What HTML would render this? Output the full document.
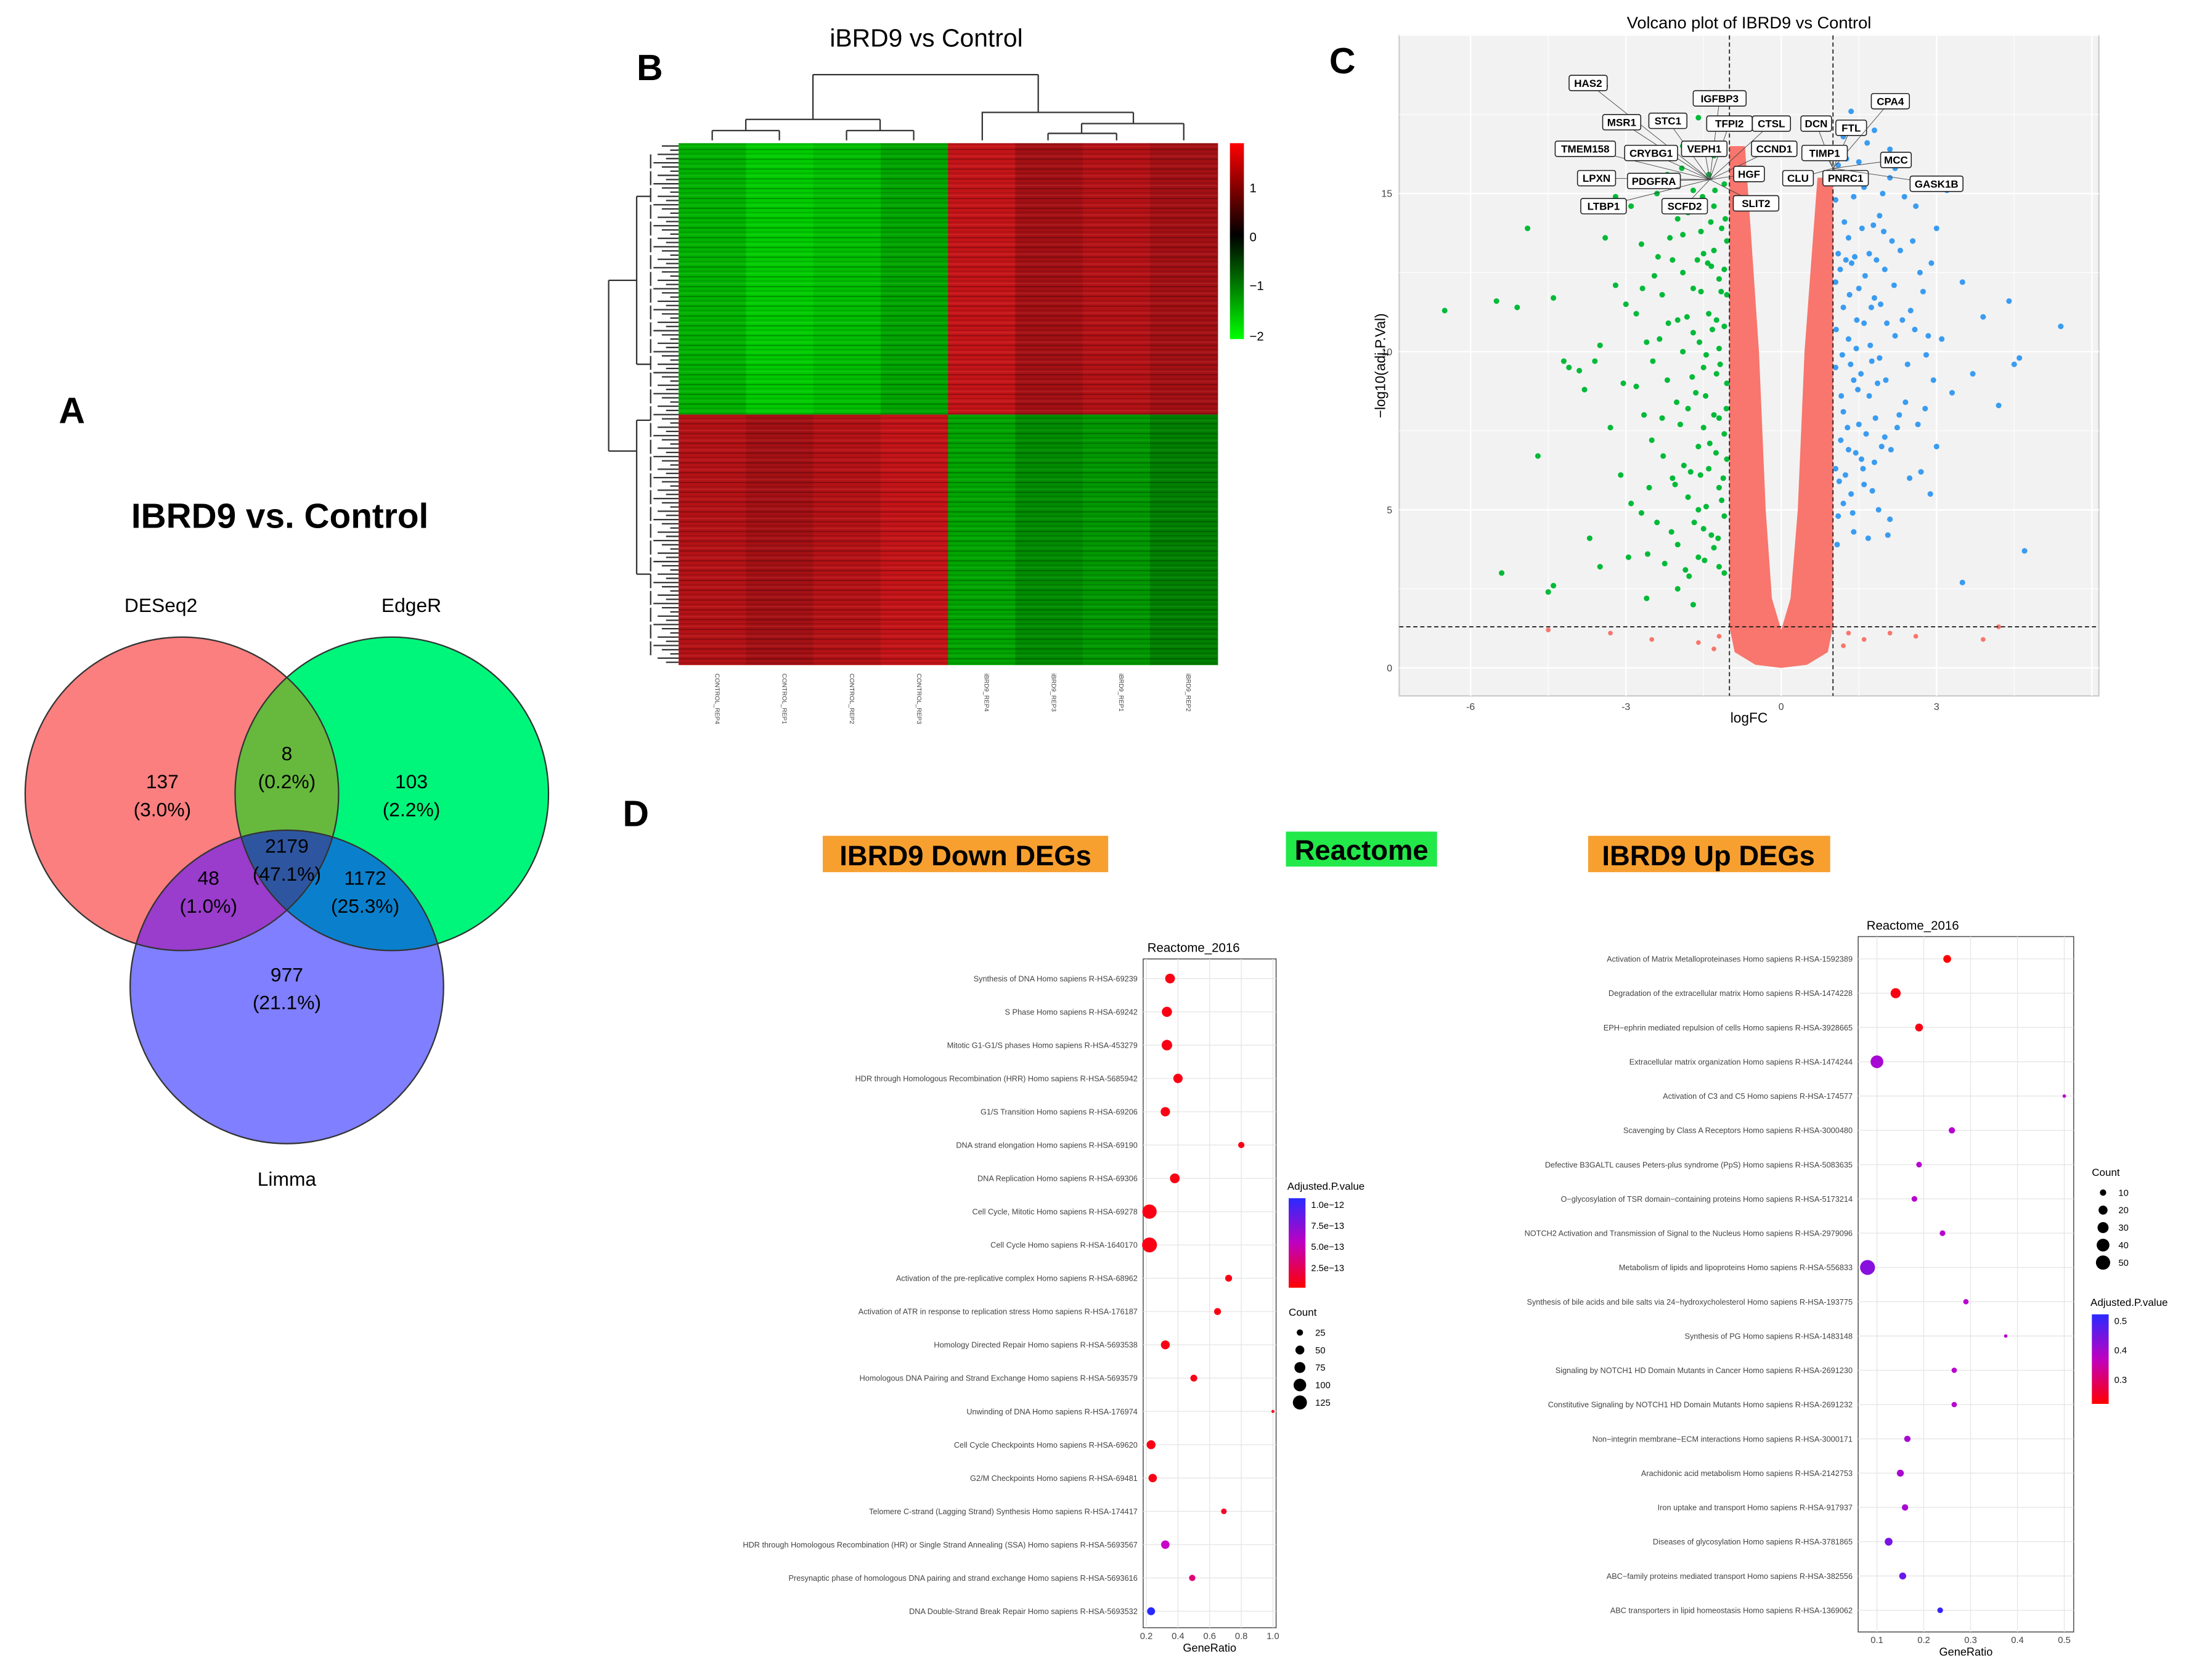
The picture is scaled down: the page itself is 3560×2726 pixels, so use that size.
<!DOCTYPE html>
<html><head><meta charset="utf-8"><style>
html,body{margin:0;padding:0;background:#fff;}
svg{display:block;font-family:"Liberation Sans",sans-serif;}
</style></head><body>
<svg id="fig" width="3560" height="2726" viewBox="0 0 1568 1200" xmlns="http://www.w3.org/2000/svg">
<rect width="1568" height="1200" fill="#fff"/>

<!-- PANEL A -->
<g>
<defs>
<clipPath id="cR"><circle cx="130" cy="567" r="112"/></clipPath>
<clipPath id="cG"><circle cx="280" cy="567" r="112"/></clipPath>
<clipPath id="cB"><circle cx="205" cy="705" r="112"/></clipPath>
</defs>
<text x="42" y="302" font-size="26" font-weight="bold">A</text>
<text x="200" y="377" font-size="25" font-weight="bold" text-anchor="middle">IBRD9 vs. Control</text>
<text x="115" y="437" font-size="14" text-anchor="middle">DESeq2</text>
<text x="294" y="437" font-size="14" text-anchor="middle">EdgeR</text>
<text x="205" y="847" font-size="14" text-anchor="middle">Limma</text>
<circle cx="130" cy="567" r="112" fill="#fb7f7f"/>
<circle cx="280" cy="567" r="112" fill="#00f57b"/>
<circle cx="205" cy="705" r="112" fill="#7f7fff"/>
<g clip-path="url(#cR)"><circle cx="280" cy="567" r="112" fill="#66b93d"/></g>
<g clip-path="url(#cR)"><circle cx="205" cy="705" r="112" fill="#9a3ccc"/></g>
<g clip-path="url(#cG)"><circle cx="205" cy="705" r="112" fill="#0a80cc"/></g>
<g clip-path="url(#cR)"><g clip-path="url(#cG)"><circle cx="205" cy="705" r="112" fill="#2e56a0"/></g></g>
<g fill="none" stroke="#333" stroke-width="1">
<circle cx="130" cy="567" r="112"/><circle cx="280" cy="567" r="112"/><circle cx="205" cy="705" r="112"/>
</g>
<g font-size="14" text-anchor="middle">
<text x="116" y="563">137</text><text x="116" y="583">(3.0%)</text>
<text x="205" y="543">8</text><text x="205" y="563">(0.2%)</text>
<text x="294" y="563">103</text><text x="294" y="583">(2.2%)</text>
<text x="205" y="609">2179</text><text x="205" y="629">(47.1%)</text>
<text x="149" y="632">48</text><text x="149" y="652">(1.0%)</text>
<text x="261" y="632">1172</text><text x="261" y="652">(25.3%)</text>
<text x="205" y="701">977</text><text x="205" y="721">(21.1%)</text>
</g>
</g>

<!-- PANEL B -->
<g>
<defs>
<pattern id="stripes" width="10" height="7" patternUnits="userSpaceOnUse">
<rect width="10" height="1" y="1" fill="#000" opacity="0.25"/>
<rect width="10" height="1" y="4" fill="#000" opacity="0.12"/>
<rect width="10" height="0.6" y="6" fill="#fff" opacity="0.08"/>
</pattern>
<linearGradient id="hmleg" x1="0" y1="0" x2="0" y2="1">
<stop offset="0" stop-color="#ff0000"/><stop offset="0.47" stop-color="#000"/><stop offset="1" stop-color="#00ff00"/>
</linearGradient>
</defs>
<text x="455" y="57" font-size="26" font-weight="bold">B</text>
<text x="662" y="33" font-size="18" text-anchor="middle">iBRD9 vs Control</text>
<g id="hmcells"></g>
<rect x="485" y="102" width="385" height="373" fill="url(#stripes)"/>
<g stroke="#333" stroke-width="1" fill="none">
<path d="M509 100V93M557 100V93M509 93H557M605 100V93M653 100V93M605 93H653M533 93V85M629 93V85M533 85H629M581 85V53M702 100V90M749 100V95M798 100V95M749 95H798M846 100V88M773 95V88M773 88H846M810 88V80M702 90V80H810M742 80V53M581 53H742"/>
</g>
<g stroke="#333" stroke-width="1" fill="none">
<path d="M435 200V322M435 200H455M435 322H455M455 140V260M455 140H465M455 260H465M455 300V410M455 300H465M455 410H465"/>
<path id="comb" d=""/>
</g>
<rect x="879" y="102" width="10" height="140" fill="url(#hmleg)"/>
<g font-size="9">
<text x="893" y="137">1</text><text x="893" y="172">0</text><text x="893" y="207">−1</text><text x="893" y="243">−2</text>
</g>
<g id="hmcols" font-size="4.5" fill="#444"></g>
</g>

<!-- PANEL C -->
<g>
<text x="950" y="52" font-size="26" font-weight="bold">C</text>
<text x="1250" y="20" font-size="12" text-anchor="middle">Volcano plot of IBRD9 vs Control</text>
<rect x="1000" y="25" width="500" height="472" fill="#f2f2f2" stroke="#ccc"/>
<g id="vgrid"></g>
<g id="vpts"></g>
<g id="vaxes" font-size="7" fill="#444"></g>
<text x="1250" y="516" font-size="10" text-anchor="middle">logFC</text>
<text x="0" y="0" font-size="10" text-anchor="middle" transform="translate(990,261) rotate(-90)">−log10(adj.P.Val)</text>
<g id="vlabels" font-size="7.5" font-weight="bold"></g>
</g>

<!-- PANEL D -->
<g>
<defs>
<linearGradient id="padjL" x1="0" y1="0" x2="0" y2="1"><stop offset="0" stop-color="#2a2aff"/><stop offset="0.5" stop-color="#c000c0"/><stop offset="1" stop-color="#ff0000"/></linearGradient>
</defs>
<text x="445" y="590" font-size="26" font-weight="bold">D</text>
<rect x="588" y="597" width="204" height="26" fill="#f7a030"/>
<text x="690" y="618" font-size="20" font-weight="bold" text-anchor="middle">IBRD9 Down DEGs</text>
<rect x="919" y="594" width="108" height="25" fill="#22e84a"/>
<text x="973" y="614" font-size="20" font-weight="bold" text-anchor="middle">Reactome</text>
<rect x="1135" y="597" width="173" height="26" fill="#f7a030"/>
<text x="1221" y="618" font-size="20" font-weight="bold" text-anchor="middle">IBRD9 Up DEGs</text>
<g id="dotL"></g>
<g id="dotR"></g>
</g>

<script>
// ---------- Heatmap data ----------
const hmSamples = ["CONTROL_REP4","CONTROL_REP1","CONTROL_REP2","CONTROL_REP3","iBRD9_REP4","iBRD9_REP3","iBRD9_REP1","iBRD9_REP2"];
const hmTopBlock = [-1.4,-1.6,-1.5,-1.3,1.2,1.0,1.1,1.0];
const hmBottomBlock = [1.1,1.0,1.1,1.2,-1.3,-1.1,-1.2,-1.0];

// ---------- Volcano data ----------
const vGreen = [[-6.5,11.3],[-5.5,11.6],[-5.1,11.4],[-4.9,13.9],[-4.7,6.7],[-5.4,3],[-4.4,2.6],[-4.5,2.4],[-4.4,11.7],[-4.2,9.7],[-4.1,9.5],[-3.9,9.4],[-3.6,9.7],[-3.8,8.8],[-3.5,10.2],[-3.3,7.6],[-3.2,12.1],[-3.0,11.5],[-3.1,6.1],[-2.9,5.2],[-2.8,8.9],[-2.7,13.4],[-2.6,10.3],[-2.5,7.2],[-2.4,4.6],[-2.3,11.8],[-2.2,9.1],[-2.1,6.0],[-2.0,14.2],[-2.0,3.9],[-1.9,12.5],[-1.8,8.2],[-1.8,5.4],[-1.7,10.6],[-1.7,15.1],[-1.6,3.5],[-1.6,7.0],[-1.5,13.1],[-1.5,9.5],[-1.5,4.4],[-1.4,11.2],[-1.4,6.3],[-1.3,14.6],[-1.3,8.0],[-1.3,3.8],[-1.2,12.3],[-1.2,10.1],[-1.2,5.7],[-1.1,15.3],[-1.1,7.4],[-1.1,4.8],[-1.05,9.0],[-1.05,13.5],[-1.05,11.8],[-1.05,6.6],[-2.4,15.0],[-2.2,15.6],[-1.9,16.5],[-1.6,17.4],[-2.9,14.6],[-3.4,13.6],[-2.6,2.2],[-2.0,2.5],[-1.7,2.0],[-3.5,3.2],[-3.7,4.1],[-1.9,13.7],[-2.3,7.9],[-2.7,4.9],[-3.2,14.9],[-3.4,18.4],[-1.25,9.3],[-1.35,12.7],[-1.15,13.9],[-1.45,5.1],[-1.2,3.2],[-1.55,11.9],[-1.1,10.8],[-1.3,16.2],[-1.65,8.7],[-1.9,10.0],[-2.1,12.9],
[-1.1,3.0],[-1.15,5.3],[-1.2,7.9],[-1.25,11.0],[-1.1,12.6],[-1.3,13.2],[-1.4,15.6],[-1.5,7.6],[-1.35,4.2],[-1.45,9.9],[-1.55,13.8],[-1.6,5.0],[-1.7,12.0],[-1.75,6.2],[-1.8,14.4],[-1.85,3.1],[-1.95,7.7],[-2.0,11.0],[-2.05,5.8],[-2.15,13.6],[-2.25,3.3],[-2.35,10.4],[-2.45,12.4],[-2.55,5.7],[-2.65,8.0],[-2.8,11.2],[-2.95,3.5],[-3.05,9.0],[-1.08,14.2],[-1.12,6.0],[-1.18,9.6],[-1.22,4.1],[-1.28,15.1],[-1.33,10.7],[-1.38,7.1],[-1.42,12.8],[-1.48,3.4],[-1.52,14.9],[-1.58,10.3],[-1.62,12.9],[-1.68,4.6],[-1.72,9.2],[-1.78,2.9],[-1.82,11.1],[-1.88,6.4],[-1.92,15.8],[-2.02,8.4],[-2.12,4.3],[-2.18,10.9],[-2.28,6.7],[-2.38,13.0],[-2.48,9.7],[-2.58,3.6],[-2.68,12.0],[-1.06,8.2],[-1.16,11.9],[-1.26,6.8],[-1.36,14.1],[-1.46,8.6],[-1.56,6.1]];
const vBlue = [[1.05,14.8],[1.05,12.2],[1.05,9.5],[1.05,6.3],[1.1,4.8],[1.1,15.9],[1.2,11.4],[1.2,8.1],[1.2,5.2],[1.3,13.6],[1.3,10.4],[1.3,6.9],[1.4,14.9],[1.4,9.1],[1.4,4.3],[1.5,12.0],[1.5,7.7],[1.6,15.2],[1.6,10.9],[1.6,5.8],[1.7,13.1],[1.7,8.6],[1.8,11.7],[1.8,6.5],[1.9,14.3],[1.9,9.8],[2.0,12.6],[2.0,7.3],[2.1,15.5],[2.1,4.7],[2.2,10.5],[2.3,13.2],[2.4,8.4],[2.5,11.3],[2.6,14.6],[2.7,6.2],[2.8,9.9],[2.9,12.8],[3.0,7.0],[3.1,10.4],[3.2,15.1],[3.3,8.7],[3.5,12.2],[3.5,2.7],[3.7,9.3],[3.9,11.1],[4.2,8.3],[4.4,11.6],[4.5,9.6],[4.6,9.8],[4.7,3.7],[5.4,10.8],[1.2,16.8],[1.5,16.0],[1.8,17.0],[2.1,16.4],[1.35,17.6],[2.2,18.0],[2.2,15.8],[1.15,7.2],[1.25,12.9],[1.45,10.1],[1.1,13.1],[1.55,6.6],[1.35,5.5],[1.75,9.7],
[1.08,3.9],[1.12,5.9],[1.18,9.9],[1.22,14.1],[1.28,7.6],[1.32,11.8],[1.38,4.9],[1.42,13.0],[1.48,8.8],[1.52,15.4],[1.58,6.3],[1.62,12.4],[1.68,4.1],[1.72,10.2],[1.78,14.0],[1.82,7.9],[1.88,5.0],[1.92,11.5],[1.98,13.8],[2.02,9.1],[2.12,6.9],[2.18,12.1],[2.28,8.0],[2.38,14.9],[2.48,6.0],[2.58,10.7],[2.68,12.5],[2.78,8.2],[2.88,5.5],[3.0,13.9],[1.06,10.7],[1.14,12.6],[1.16,8.6],[1.24,6.1],[1.26,16.1],[1.34,9.6],[1.36,12.8],[1.44,6.8],[1.46,11.0],[1.54,9.3],[1.56,13.9],[1.64,7.4],[1.66,16.6],[1.74,11.4],[1.76,5.6],[1.84,12.9],[1.86,9.0],[1.94,7.0],[1.96,15.0],[2.04,10.9],[2.06,4.2],[2.14,13.5],[2.24,7.6],[2.34,11.0],[2.44,9.6],[2.54,13.5],[2.64,7.7],[2.74,11.9],[2.84,10.5],[2.94,9.1]];
const vRedOutside = [[-4.5,1.2],[-3.3,1.1],[-2.5,0.9],[-1.6,0.8],[1.6,0.9],[2.1,1.1],[2.6,1.0],[3.9,0.9],[4.2,1.3],[-1.3,0.6],[-1.2,1.0],[1.2,0.7],[1.3,1.1]];
const vRedArea = [[-1,16.5],[-1,1.3],[-0.9,0.5],[-0.5,0.1],[0,0],[0.5,0.1],[0.9,0.5],[1,1.3],[1,15.5],[0.7,15.5],[0.45,10],[0.32,5],[0.18,2.2],[0,1.2],[-0.18,2.2],[-0.3,5],[-0.43,10],[-0.7,16.5]];
const vXTicks = [-6,-3,0,3];
const vYTicks = [0,5,10,15];
const vThreshFC = 1;
const vThreshP = 1.3;
const vLabels = ["HAS2","MSR1","STC1","IGFBP3","TFPI2","CTSL","DCN","FTL","CPA4","TMEM158","CRYBG1","VEPH1","CCND1","TIMP1","MCC","LPXN","PDGFRA","HGF","CLU","PNRC1","GASK1B","LTBP1","SCFD2","SLIT2"];

// ---------- Dot plot data ----------
const downTerms = ["Synthesis of DNA Homo sapiens R-HSA-69239","S Phase Homo sapiens R-HSA-69242","Mitotic G1-G1/S phases Homo sapiens R-HSA-453279","HDR through Homologous Recombination (HRR) Homo sapiens R-HSA-5685942","G1/S Transition Homo sapiens R-HSA-69206","DNA strand elongation Homo sapiens R-HSA-69190","DNA Replication Homo sapiens R-HSA-69306","Cell Cycle, Mitotic Homo sapiens R-HSA-69278","Cell Cycle Homo sapiens R-HSA-1640170","Activation of the pre-replicative complex Homo sapiens R-HSA-68962","Activation of ATR in response to replication stress Homo sapiens R-HSA-176187","Homology Directed Repair Homo sapiens R-HSA-5693538","Homologous DNA Pairing and Strand Exchange Homo sapiens R-HSA-5693579","Unwinding of DNA Homo sapiens R-HSA-176974","Cell Cycle Checkpoints Homo sapiens R-HSA-69620","G2/M Checkpoints Homo sapiens R-HSA-69481","Telomere C-strand (Lagging Strand) Synthesis Homo sapiens R-HSA-174417","HDR through Homologous Recombination (HR) or Single Strand Annealing (SSA) Homo sapiens R-HSA-5693567","Presynaptic phase of homologous DNA pairing and strand exchange Homo sapiens R-HSA-5693616","DNA Double-Strand Break Repair Homo sapiens R-HSA-5693532"];
const downRatio = [0.35,0.33,0.33,0.40,0.32,0.80,0.38,0.22,0.22,0.72,0.65,0.32,0.50,1.0,0.23,0.24,0.69,0.32,0.49,0.23];
const downCount = [60,65,70,55,55,25,60,130,140,30,30,50,30,6,50,45,20,45,25,40];
const downPadj = [0.05,0.05,0.05,0.05,0.05,0.05,0.05,0.05,0.05,0.05,0.05,0.05,0.05,0.05,0.05,0.05,0.1,0.5,0.3,1.0];
const downXTicks = ["0.2","0.4","0.6","0.8","1.0"];
const downCountLegend = [25,50,75,100,125];
const downPadjLegend = ["1.0e−12","7.5e−13","5.0e−13","2.5e−13"];

const upTerms = ["Activation of Matrix Metalloproteinases Homo sapiens R-HSA-1592389","Degradation of the extracellular matrix Homo sapiens R-HSA-1474228","EPH−ephrin mediated repulsion of cells Homo sapiens R-HSA-3928665","Extracellular matrix organization Homo sapiens R-HSA-1474244","Activation of C3 and C5 Homo sapiens R-HSA-174577","Scavenging by Class A Receptors Homo sapiens R-HSA-3000480","Defective B3GALTL causes Peters-plus syndrome (PpS) Homo sapiens R-HSA-5083635","O−glycosylation of TSR domain−containing proteins Homo sapiens R-HSA-5173214","NOTCH2 Activation and Transmission of Signal to the Nucleus Homo sapiens R-HSA-2979096","Metabolism of lipids and lipoproteins Homo sapiens R-HSA-556833","Synthesis of bile acids and bile salts via 24−hydroxycholesterol Homo sapiens R-HSA-193775","Synthesis of PG Homo sapiens R-HSA-1483148","Signaling by NOTCH1 HD Domain Mutants in Cancer Homo sapiens R-HSA-2691230","Constitutive Signaling by NOTCH1 HD Domain Mutants Homo sapiens R-HSA-2691232","Non−integrin membrane−ECM interactions Homo sapiens R-HSA-3000171","Arachidonic acid metabolism Homo sapiens R-HSA-2142753","Iron uptake and transport Homo sapiens R-HSA-917937","Diseases of glycosylation Homo sapiens R-HSA-3781865","ABC−family proteins mediated transport Homo sapiens R-HSA-382556","ABC transporters in lipid homeostasis Homo sapiens R-HSA-1369062"];
const upRatio = [0.25,0.14,0.19,0.10,0.50,0.26,0.19,0.18,0.24,0.08,0.29,0.375,0.265,0.265,0.165,0.15,0.16,0.125,0.155,0.235];
const upCount = [15,25,15,40,3,10,8,8,8,55,7,3,7,7,10,12,10,15,12,8];
const upPadj = [0.0,0.05,0.05,0.6,0.55,0.55,0.55,0.55,0.55,0.7,0.55,0.55,0.55,0.55,0.6,0.6,0.6,0.75,0.8,0.95];
const upXTicks = ["0.1","0.2","0.3","0.4","0.5"];
const upCountLegend = [10,20,30,40,50];
const upPadjLegend = ["0.5","0.4","0.3"];

const NS = "http://www.w3.org/2000/svg";
function mk(tag, attrs, parent){const e=document.createElementNS(NS,tag);for(const k in attrs)e.setAttribute(k,attrs[k]);parent.appendChild(e);return e;}

// ---- heatmap ----
(function(){
  const g=document.getElementById('hmcells');
  const x0=485,w=385/8,yTop=102,yMid=296,yBot=475;
  function col(v){ if(v>=0){const r=Math.round(Math.min(1,v/1.4)*230);return `rgb(${r},${Math.round(r*0.1)},${Math.round(r*0.12)})`;} const gg=Math.round(Math.min(1,-v/2)*255);return `rgb(0,${gg},0)`; }
  hmSamples.forEach((s,i)=>{
    const a=mk('rect',{x:x0+i*w,y:yTop,width:w+0.5,height:yMid-yTop,fill:col(hmTopBlock[i])},g);
    
    
    const b=mk('rect',{x:x0+i*w,y:yMid,width:w+0.5,height:yBot-yMid,fill:col(hmBottomBlock[i])},g);
    
    
    const t=mk('text',{x:0,y:0,transform:`translate(${x0+i*w+w/2+2},481) rotate(90)`},document.getElementById('hmcols'));
    t.textContent=s;
    
    
  });
  let d="";
  for(let y=104;y<475;y+=3){const l=465+((y*7)%15);d+=`M${l} ${y}H485`;}
  for(let y=110;y<470;y+=12){d+=`M465 ${y}V${y+10}`;}
  document.getElementById('comb').setAttribute('d',d);
})();

// ---- volcano ----
(function(){
  const X=v=>1273+v*37, Y=v=>477-v*22.6;
  const gg=document.getElementById('vgrid');
  for(let v=-7.5;v<=6;v+=1.5){const l=mk('line',{x1:X(v),x2:X(v),y1:25,y2:497,stroke:'#fff','stroke-width':(v%3===0)?1:0.5},gg);}
  for(let v=0;v<=20;v+=2.5){if(Y(v)<25)continue;const l=mk('line',{x1:1000,x2:1500,y1:Y(v),y2:Y(v),stroke:'#fff','stroke-width':(v%5===0)?1:0.5},gg);}
  const p=document.getElementById('vpts');
  const arm=mk('polygon',{points:vRedArea.map(q=>X(q[0])+','+Y(q[1])).join(' '),fill:'#f8766d'},p);
  
  
  vRedOutside.forEach(q=>{const c=mk('circle',{cx:X(q[0]),cy:Y(q[1]),r:1.7,fill:'#f8766d'},p);});
  vGreen.forEach(q=>{const c=mk('circle',{cx:X(q[0]),cy:Y(q[1]),r:2,fill:'#00ba38'},p);});
  vBlue.forEach(q=>{const c=mk('circle',{cx:X(q[0]),cy:Y(q[1]),r:2,fill:'#3a9cf0'},p);});
  [-vThreshFC,vThreshFC].forEach(v=>{const l=mk('line',{x1:X(v),x2:X(v),y1:25,y2:497,stroke:'#222','stroke-dasharray':'3,2','stroke-width':0.8},p);});
  const h=mk('line',{x1:1000,x2:1500,y1:Y(vThreshP),y2:Y(vThreshP),stroke:'#222','stroke-dasharray':'3,2','stroke-width':0.8},p);
  
  
  const ax=document.getElementById('vaxes');
  vXTicks.forEach(v=>{const t=mk('text',{x:X(v),y:507,'text-anchor':'middle'},ax);t.textContent=v;});
  vYTicks.forEach(v=>{const t=mk('text',{x:995,y:Y(v)+2.5,'text-anchor':'end'},ax);t.textContent=v;});
  const pos=[[1135,59],[1159,87],[1192,86],[1229,70],[1236,88],[1266,88],[1298,88],[1323,91],[1351,72],[1133,106],[1180,109],[1218,106],[1268,106],[1304,109],[1355,114],[1141,127],[1182,129],[1250,124],[1285,127],[1319,127],[1384,131],[1146,147],[1204,147],[1255,145]];
  const L=document.getElementById('vlabels');
  vLabels.forEach((s,i)=>{
    const [x,y]=pos[i];const w=s.length*5.3+6;
    let tx=x<1273?1222:1310, ty=x<1273?128:120;
    const ln=mk('line',{x1:x,y1:y,x2:tx,y2:ty,stroke:'#444','stroke-width':0.4},L);
    
    
    const r=mk('rect',{x:x-w/2,y:y-5.5,width:w,height:11,rx:1.5,fill:'#fff',stroke:'#222','stroke-width':0.7},L);
    
    
    const t=mk('text',{x:x,y:y+2.7,'text-anchor':'middle'},L);t.textContent=s;
    
    
  });
})();

// ---- dot plots ----
function padjColor(t){t=Math.max(0,Math.min(1,t));let r,g,b;if(t<0.5){const u=t/0.5;r=255-55*u;g=0;b=200*u;}else{const u=(t-0.5)/0.5;r=200-160*u;g=40*u;b=200+55*u;}return `rgb(${Math.round(r)},${Math.round(g)},${Math.round(b)})`;}
function dotPlot(gid,cfg){
  const g=document.getElementById(gid);
  const {px,py,pw,ph,xmin,xmax,terms,ratio,count,padj,xticks,rscale,titleX,titleY,yFirst,yStep}=cfg;
  const X=v=>px+(v-xmin)/(xmax-xmin)*pw, Y=i=>yFirst+i*yStep;
  const bg=mk('rect',{x:px,y:py,width:pw,height:ph,fill:'#fff',stroke:'#555','stroke-width':0.7},g);
  
  
  const tt=mk('text',{x:titleX,y:titleY,'font-size':9,'text-anchor':'middle'},g);tt.textContent="Reactome_2016";
  
  
  xticks.forEach(s=>{const v=parseFloat(s);
    const l=mk('line',{x1:X(v),x2:X(v),y1:py,y2:py+ph,stroke:'#e6e6e6','stroke-width':0.6},g);
    const t=mk('text',{x:X(v),y:py+ph+8,'font-size':6.5,'text-anchor':'middle',fill:'#444'},g);t.textContent=s;});
  const xt=mk('text',{x:px+pw/2,y:py+ph+17,'font-size':8,'text-anchor':'middle'},g);xt.textContent="GeneRatio";
  
  
  terms.forEach((s,i)=>{
    const l=mk('line',{x1:px,x2:px+pw,y1:Y(i),y2:Y(i),stroke:'#e6e6e6','stroke-width':0.6},g);
    const t=mk('text',{x:px-4,y:Y(i)+2,'font-size':5.6,'text-anchor':'end',fill:'#444'},g);t.textContent=s;
  });
  terms.forEach((s,i)=>{
    const c=mk('circle',{cx:X(ratio[i]),cy:Y(i),r:Math.sqrt(count[i])*rscale,fill:padjColor(padj[i])},g);
    
    
  });
}
function legends(gid,cfg){
  const g=document.getElementById(gid);
  const {cx,cy,counts,rscale,px,py,labels}=cfg;
  let a=mk('text',{x:cx,y:cy,'font-size':7.5},g);a.textContent="Count";
  counts.forEach((c,i)=>{const y=cy+12+i*12.5;
    const ci=mk('circle',{cx:cx+8,cy:y,r:Math.sqrt(c)*rscale,fill:'#000'},g);
    const t=mk('text',{x:cx+19,y:y+2.3,'font-size':6.5},g);t.textContent=c;});
  let b=mk('text',{x:px,y:py,'font-size':7.5},g);b.textContent="Adjusted.P.value";
  const bar=mk('rect',{x:px+1,y:py+6,width:12,height:64,fill:'url(#padjL)'},g);
  
  
  labels.forEach((s,i)=>{const y=py+11+i*(labels.length>3?15:21);const t=mk('text',{x:px+17,y:y+2,'font-size':6.5},g);t.textContent=s;});
}
dotPlot('dotL',{px:817,py:685,pw:95,ph:478,xmin:0.18,xmax:1.02,terms:downTerms,ratio:downRatio,count:downCount,padj:downPadj,xticks:downXTicks,rscale:0.45,titleX:853,titleY:680,yFirst:699,yStep:23.8});
legends('dotL',{cx:921,cy:940,counts:downCountLegend,rscale:0.45,px:920,py:850,labels:downPadjLegend});
dotPlot('dotR',{px:1328,py:669,pw:154,ph:497,xmin:0.06,xmax:0.52,terms:upTerms,ratio:upRatio,count:upCount,padj:upPadj,xticks:upXTicks,rscale:0.72,titleX:1367,titleY:664,yFirst:685,yStep:24.5});
legends('dotR',{cx:1495,cy:840,counts:upCountLegend,rscale:0.72,px:1494,py:933,labels:upPadjLegend});
</script>
</svg>
</body></html>
